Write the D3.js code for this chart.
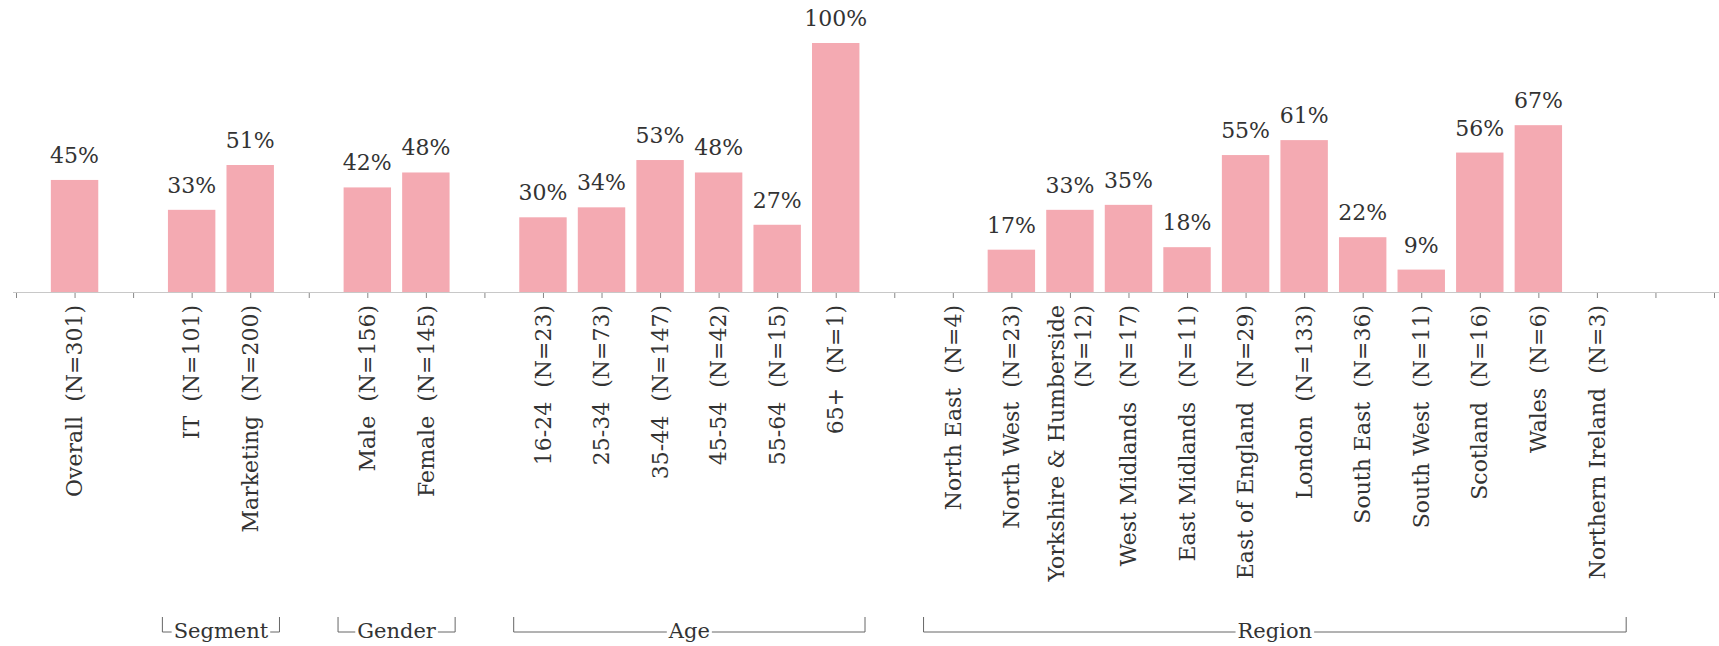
<!DOCTYPE html>
<html>
<head>
<meta charset="utf-8">
<script src="https://cdn.jsdelivr.net/npm/d3@7"></script>
<style>
  html, body { margin: 0; padding: 0; background: #fff; }
  svg { display: block; }
  text { font-family: "DejaVu Serif", "Liberation Serif", serif; fill: #333; }
</style>
</head>
<body>
<svg id="chart" width="1719" height="646"></svg>
<script>
// ---- data ----
const groupNames = ["", "Segment", "Gender", "Age", "Region"];
const categories = [
  "Overall  (N=301)",
  "IT  (N=101)", "Marketing  (N=200)",
  "Male  (N=156)", "Female  (N=145)",
  "16-24  (N=23)", "25-34  (N=73)", "35-44  (N=147)", "45-54  (N=42)", "55-64  (N=15)", "65+  (N=1)",
  "North East  (N=4)", "North West  (N=23)", "Yorkshire & Humberside  (N=12)", "West Midlands  (N=17)",
  "East Midlands  (N=11)", "East of England  (N=29)", "London  (N=133)", "South East  (N=36)",
  "South West  (N=11)", "Scotland  (N=16)", "Wales  (N=6)", "Northern Ireland  (N=3)"
];
const categoryGroup = [
  0,
  1, 1,
  2, 2,
  3, 3, 3, 3, 3, 3,
  4, 4, 4, 4, 4, 4, 4, 4, 4, 4, 4, 4
];
const values = [
  45,
  33, 51,
  42, 48,
  30, 34, 53, 48, 27, 100,
  null, 17, 33, 35, 18, 55, 61, 22, 9, 56, 67, null
];

// ---- layout ----
const W = 1719, H = 646;
const baseY = 292, topY = 43;
const svg = d3.select("#chart");

// build slot domain: spacer before each group, two trailing spacers
const slots = [];
let sp = 0;
categories.forEach((c, i) => {
  if (i === 0 || categoryGroup[i] !== categoryGroup[i - 1]) slots.push({key: "sp" + (sp++), spacer: true});
  slots.push({key: "c" + i, spacer: false, i});
});
slots.push({key: "sp" + (sp++), spacer: true});
slots.push({key: "sp" + (sp++), spacer: true});

const x = d3.scalePoint().domain(slots.map(s => s.key)).range([16, 1714]);
const step = x.step();
const barW = step * 0.81;
const y = d3.scaleLinear().domain([0, 100]).range([baseY, topY]);

// axis
const axis = d3.axisBottom(x).tickSize(6).tickFormat("");
const gAxis = svg.append("g").attr("transform", `translate(0,${baseY})`).call(axis);
gAxis.select(".domain").remove();
gAxis.selectAll(".tick line").attr("stroke", "#888").attr("stroke-width", 1);
svg.append("line").attr("x1", 13).attr("x2", W).attr("y1", baseY + 0.5).attr("y2", baseY + 0.5)
  .attr("stroke", "#c8c8c8").attr("stroke-width", 1);

// bars
const barData = slots.filter(s => !s.spacer && values[s.i] != null);
svg.append("g").selectAll("rect").data(barData).join("rect")
  .attr("x", d => x(d.key) - barW / 2)
  .attr("width", barW)
  .attr("y", d => y(values[d.i]))
  .attr("height", d => baseY - y(values[d.i]))
  .attr("fill", "#f4aab2");

// value labels
svg.append("g").selectAll("text").data(barData).join("text")
  .attr("x", d => x(d.key))
  .attr("y", d => y(values[d.i]) - 17)
  .attr("text-anchor", "middle")
  .attr("font-size", 22)
  .text(d => values[d.i] + "%");

// category labels (rotated, wrapped)
const labelData = slots.filter(s => !s.spacer);
const maxLen = 320;
const lg = svg.append("g");
labelData.forEach(d => {
  const t = lg.append("text")
    .attr("transform", `translate(${x(d.key)},305) rotate(-90)`)
    .attr("text-anchor", "end")
    .attr("font-size", 22)
    .style("white-space", "pre");
  const full = categories[d.i];
  t.text(full);
  if (t.node().getComputedTextLength() > maxLen) {
    const idx = full.lastIndexOf("  ");
    const lines = [full.slice(0, idx), full.slice(idx + 2)];
    t.text(null);
    lines.forEach((ln, k) => {
      t.append("tspan").attr("x", 0).attr("dy", k === 0 ? "-0.25em" : "1.2em").text(ln);
    });
  } else {
    t.attr("dy", "0.35em");
  }
});

// group brackets
const bracketY = 632, tickTop = 617;
const bg = svg.append("g");
groupNames.forEach((name, gi) => {
  if (!name) return;
  const members = labelData.filter(d => categoryGroup[d.i] === gi);
  const x0 = x(members[0].key) - step / 2;
  const x1 = x(members[members.length - 1].key) + step / 2;
  const cx = (x0 + x1) / 2;
  const txt = bg.append("text").attr("x", cx).attr("y", 638)
    .attr("text-anchor", "middle").attr("font-size", 21).text(name);
  const tw = txt.node().getComputedTextLength();
  const gap = 2;
  const path = d3.path();
  path.moveTo(x0, tickTop); path.lineTo(x0, bracketY); path.lineTo(cx - tw / 2 - gap, bracketY);
  path.moveTo(cx + tw / 2 + gap, bracketY); path.lineTo(x1, bracketY); path.lineTo(x1, tickTop);
  bg.append("path").attr("d", path.toString()).attr("fill", "none")
    .attr("stroke", "#666").attr("stroke-width", 1);
});
</script>
</body>
</html>
